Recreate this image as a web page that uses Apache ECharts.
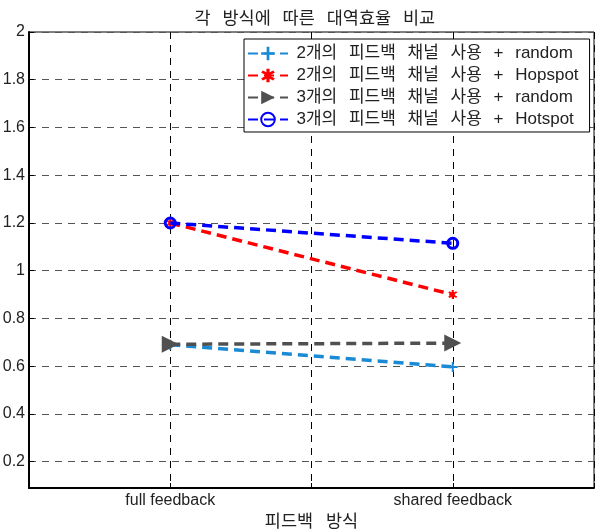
<!DOCTYPE html>
<html>
<head>
<meta charset="utf-8">
<script src="https://cdn.jsdelivr.net/npm/echarts@6/dist/echarts.min.js"></script>
<style>html,body{margin:0;padding:0;background:#fff}#c{width:601px;height:531px}</style>
</head>
<body>
<div id="c"></div>
<script>
var categories = ['full feedback', 'shared feedback'];
var seriesNames = ['2개의 피드백 채널 사용 + random', '2개의 피드백 채널 사용 + Hopspot', '3개의 피드백 채널 사용 + random', '3개의 피드백 채널 사용 + Hotspot'];
var s2random = [0.69, 0.597];
var s2hopspot = [1.2, 0.90];
var s3random = [0.692, 0.697];
var s3hotspot = [1.2, 1.115];
var yTicks = [0.2, 0.4, 0.6, 0.8, 1, 1.2, 1.4, 1.6, 1.8, 2];
var titleText = '각 방식에 따른 대역효율 비교';
var xName = '피드백 방식';

function pts(arr) { return arr.map(function (v, i) { return [i + 1, v]; }); }
function spaced(s, key) { return s.split(' ').map(function (w) { return '{' + key + '|' + w + '}'; }).join(' '); }

var plusPath = 'path://M4,0H6V4H10V6H6V10H4V6H0V4H4Z';
var starPath = 'path://M4,0H6V2.6L8.3,1.3L9.3,3L7,4.3V5.7L9.3,7L8.3,8.7L6,7.4V10H4V7.4L1.7,8.7L0.7,7L3,5.7V4.3L0.7,3L1.7,1.3L4,2.6Z';
var colors = ['#1a8ad4', '#ff0000', '#505050', '#0000ff'];
var datasets = [s2random, s2hopspot, s3random, s3hotspot];
var symbols = [plusPath, starPath, 'triangle', 'circle'];
var sizes = [10, 9, 17, 10];
var rotates = [0, 0, -90, 0];
var fam = "'Liberation Sans', 'Noto Sans CJK KR', sans-serif";

var series = datasets.map(function (d, i) {
  return {
    name: seriesNames[i],
    type: 'line',
    data: pts(d),
    symbol: symbols[i],
    symbolSize: sizes[i],
    symbolRotate: rotates[i],
    z: 10 + i,
    lineStyle: { color: colors[i], width: 3.5, type: [10, 6] },
    itemStyle: i === 3
      ? { color: 'rgba(255,255,255,0)', borderColor: colors[i], borderWidth: 3 }
      : { color: colors[i], borderWidth: 0 },
    emphasis: { disabled: true },
    animation: false
  };
});

var chart = echarts.init(document.getElementById('c'));
chart.setOption({
  animation: false,
  title: {
    text: spaced(titleText, 'w'), left: 186, top: 5,
    textStyle: {
      fontFamily: fam, fontWeight: 'normal', fontSize: 17.5, color: '#222',
      rich: { w: { fontFamily: fam, fontSize: 17.5, color: '#222', padding: [0, 3.5, 0, 3.5] } }
    }
  },
  grid: { left: 29, right: 7, top: 32, bottom: 43, show: true, borderColor: '#000', borderWidth: 1, backgroundColor: '#fff', containLabel: false, outerBoundsMode: 'none' },
  legend: {
    orient: 'vertical', left: 244, top: 39,
    backgroundColor: '#fff', borderColor: '#000', borderWidth: 1,
    padding: [6, 11, 4, 3], itemGap: 5, itemWidth: 40, itemHeight: 17,
    formatter: function (n) { return spaced(n, 't'); },
    textStyle: {
      fontFamily: fam, fontSize: 17, color: '#222',
      rich: { t: { fontFamily: fam, fontSize: 17, color: '#222', padding: [0, 3.5, 0, 3.5] } }
    },
    data: seriesNames
  },
  xAxis: {
    type: 'value', min: 0.5, max: 2.5, interval: 0.5,
    name: spaced(xName, 'n'), nameLocation: 'middle', nameGap: 25,
    nameTextStyle: {
      fontFamily: fam, fontSize: 17.5, color: '#222',
      rich: { n: { fontFamily: fam, fontSize: 17.5, color: '#222', padding: [0, 4, 0, 4] } }
    },
    axisLine: { lineStyle: { color: '#000', width: 2 } },
    axisTick: { show: true, inside: true, length: 5, lineStyle: { color: '#000' } },
    axisLabel: {
      fontFamily: 'Liberation Sans', fontSize: 16, color: '#222', margin: 5,
      formatter: function (v) { var i = Math.round(v) - 1; return (Math.abs(v - Math.round(v)) < 1e-6 && categories[i]) ? categories[i] : ''; }
    },
    splitLine: { show: true, lineStyle: { color: '#000', type: [7, 6], width: 1 } }
  },
  yAxis: {
    type: 'value', min: 0.09, max: 2, splitNumber: 10,
    axisLine: { show: true, lineStyle: { color: '#000', width: 2 } },
    axisTick: { show: true, inside: true, length: 5, lineStyle: { color: '#000' } },
    axisLabel: {
      fontFamily: 'Liberation Sans', fontSize: 16, color: '#222', margin: 4,
      formatter: function (v) {
        for (var k = 0; k < yTicks.length; k++) if (Math.abs(yTicks[k] - v) < 1e-6) return String(yTicks[k]);
        return '';
      }
    },
    splitLine: { show: true, lineStyle: { color: '#555', type: [7, 6], width: 1 } }
  },
  series: series
});
</script>
</body>
</html>
